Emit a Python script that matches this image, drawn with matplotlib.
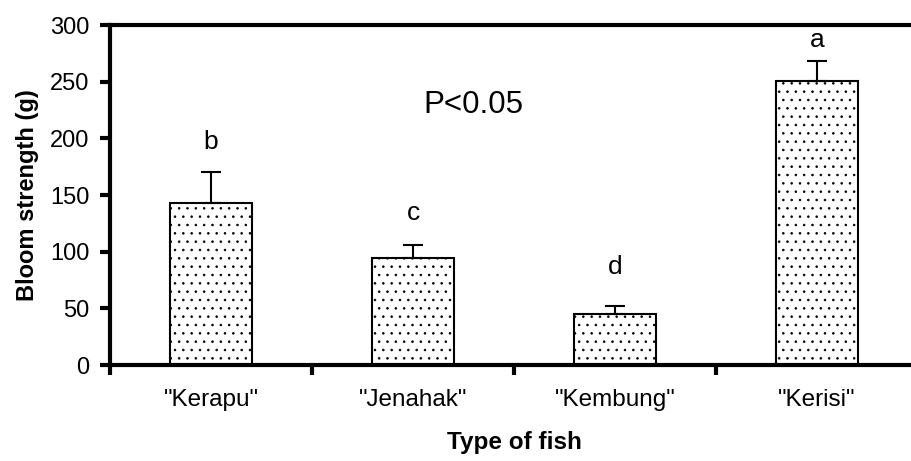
import numpy as np
import matplotlib
matplotlib.use("Agg")
import matplotlib.pyplot as plt

# values
fish = ['"Kerapu"', '"Jenahak"', '"Kembung"', '"Kerisi"']
bloom = [143, 94, 45, 251]
err = [27, 12, 7, 17]
letters = ["b", "c", "d", "a"]
letter_y = [191, 128, 80, 281]

plt.rcParams['font.family'] = ['Liberation Sans', 'DejaVu Sans']
plt.rcParams['hatch.color'] = '#555555'
plt.rcParams['hatch.linewidth'] = 0.6

fig = plt.figure(figsize=(9.11, 4.61), dpi=100)
ax = fig.add_axes([110 / 911, 96 / 461, 808 / 911, 340 / 461])

x = np.arange(len(fish))
ax.bar(x, bloom, width=0.41, color='white', edgecolor='black',
       linewidth=1.5, hatch='..', zorder=2)
ax.errorbar(x, bloom, yerr=[np.zeros(len(err)), err], fmt='none',
            ecolor='black', elinewidth=1.5, capsize=7, capthick=1.5, zorder=3)

for xi, t, yy in zip(x, letters, letter_y):
    ax.text(xi, yy, t, ha='center', va='baseline', fontsize=19)

ax.text(1.3, 229, "P<0.05", ha='center', va='center', fontsize=22.5)

ax.set_xlim(-0.5, 3.5)
ax.set_ylim(0, 300)
ax.set_yticks(range(0, 301, 50))
ax.set_xticks(x)
ax.set_xticklabels(fish, fontsize=17.5)
ax.set_xticks(np.arange(-0.5, 4, 1), minor=True)
ax.tick_params(axis='x', which='major', length=0, pad=17)
ax.tick_params(axis='x', which='minor', length=7, width=3, direction='out')
ax.tick_params(axis='y', length=7, width=3, direction='out', labelsize=17, pad=8)

for s in ['left', 'bottom', 'top']:
    ax.spines[s].set_linewidth(3)
ax.spines['right'].set_visible(False)

ax.set_ylabel("Bloom strength (g)", fontsize=17, fontweight='bold', labelpad=8)
ax.set_xlabel("Type of fish", fontsize=17.5, fontweight='bold', labelpad=15)

fig.savefig("out.png", dpi=100)
